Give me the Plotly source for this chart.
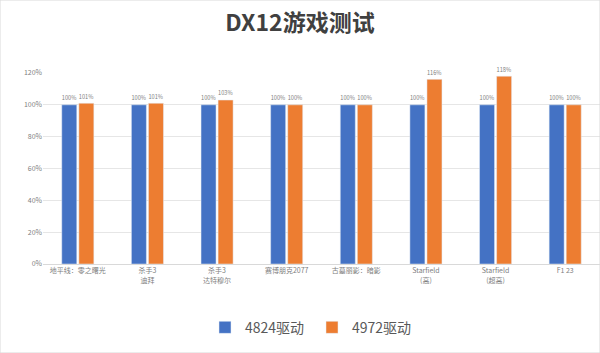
import plotly.graph_objects as go

categories = ["地平线：零之曙光", "杀手3<br>迪拜", "杀手3<br>达特穆尔", "赛博朋克2077",
              "古墓丽影：暗影", "Starfield<br>(高)", "Starfield<br>(超高)", "F1 23"]
driver_4824 = [1.00, 1.00, 1.00, 1.00, 1.00, 1.00, 1.00, 1.00]
driver_4972 = [1.01, 1.01, 1.03, 1.00, 1.00, 1.16, 1.18, 1.00]
series_names = ["4824驱动", "4972驱动"]
tick_vals = [0, 0.2, 0.4, 0.6, 0.8, 1.0, 1.2]
tick_text = ["0%", "20%", "40%", "60%", "80%", "100%", "120%"]

font_main = "Noto Sans CJK SC"

fig = go.Figure()
for name, vals, color in [(series_names[0], driver_4824, "#4472C4"),
                          (series_names[1], driver_4972, "#ED7D31")]:
    fig.add_trace(go.Bar(
        x=categories, y=vals, name=name, marker_color=color,
        text=[f"{round(v*100)}%" for v in vals], textposition="outside",
        textfont=dict(size=7, color="#808080", family=font_main),
        cliponaxis=False,
    ))

fig.update_layout(
    width=600, height=353,
    paper_bgcolor="white", plot_bgcolor="white",
    margin=dict(l=43, r=0, t=73, b=89),
    barmode="group", bargap=0.51, bargroupgap=0.12,
    title=dict(text="<b>DX12游戏测试</b>", x=0.5, xanchor="center", y=0.935, yanchor="middle",
               font=dict(size=23, color="#404040", family=font_main)),
    legend=dict(orientation="h", x=(312 - 43) / 557, xanchor="center", y=-0.25, yanchor="top",
                font=dict(size=14, color="#595959", family=font_main),
                itemwidth=30, traceorder="normal",
                entrywidth=62, entrywidthmode="pixels"),
    yaxis=dict(range=[0, 1.2], tickvals=tick_vals, ticktext=tick_text,
               showgrid=True, gridcolor="#E6E6E6", gridwidth=1, zeroline=False,
               tickfont=dict(size=7, color="#808080", family=font_main),
               ticks="", showline=False),
    xaxis=dict(tickfont=dict(size=7, color="#808080", family=font_main),
               showline=True, linecolor="#D9D9D9", linewidth=1, ticks="",
               tickangle=0),
    shapes=[dict(type="rect", xref="paper", yref="paper", x0=-43/557, x1=1,
                 y0=-89/191, y1=1+73/191, line=dict(color="#D9D9D9", width=1))],
)

fig.write_html("out.html")
